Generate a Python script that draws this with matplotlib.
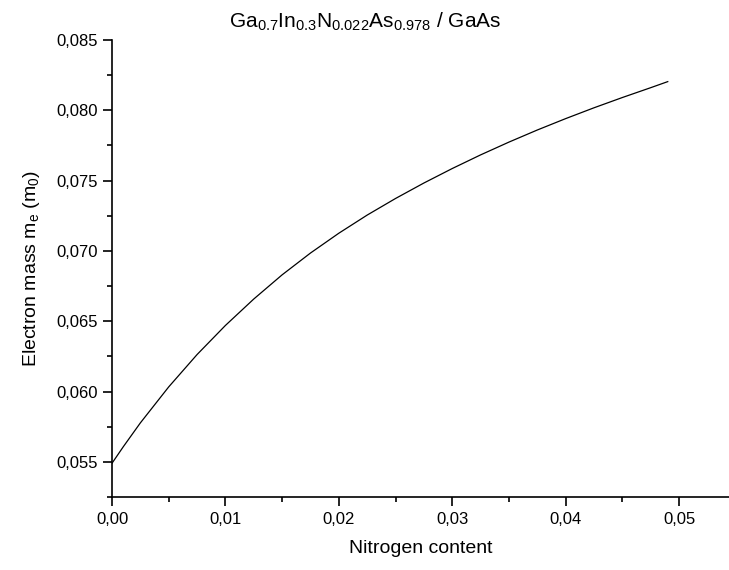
import matplotlib
matplotlib.use("Agg")
import matplotlib.pyplot as plt
from matplotlib.ticker import MultipleLocator, FuncFormatter

plt.rcParams['font.family'] = ['Liberation Sans', 'DejaVu Sans']
plt.rcParams['mathtext.fontset'] = 'custom'
plt.rcParams['mathtext.rm'] = 'Liberation Sans'
plt.rcParams['mathtext.it'] = 'Liberation Sans'

## nitrogen content and the electron effective mass (in units of m0)
nitrogen = [0.0000, 0.0010, 0.0025, 0.0050, 0.0075, 0.0100, 0.0125, 0.0150,
            0.0175, 0.0200, 0.0225, 0.0250, 0.0275, 0.0300, 0.0325, 0.0350,
            0.0375, 0.0400, 0.0425, 0.0450, 0.0475, 0.0490]
electron_mass = [0.05490, 0.05608, 0.05777, 0.06033, 0.06263, 0.06470, 0.06658, 0.06830,
                 0.06985, 0.07126, 0.07255, 0.07373, 0.07483, 0.07586, 0.07683, 0.07774,
                 0.07860, 0.07941, 0.08018, 0.08091, 0.08161, 0.08204]

title = r'Ga$_{\mathrm{0.7}}$In$_{\mathrm{0.3}}$N$_{\mathrm{0.022}}$As$_{\mathrm{0.978}}$ / GaAs'

fig = plt.figure(figsize=(7.29, 5.70), dpi=100)
ax = fig.add_axes([112/729, 73/570, 617/729, 457/570])

ax.plot(nitrogen, electron_mass, color="black", linewidth=0.9)

ax.set_xlim(0, 0.0544)
ax.set_ylim(0.0525, 0.085)

##origin style axes: only left and bottom, ticks pointing out
ax.spines["top"].set_visible(False)
ax.spines["right"].set_visible(False)
for s in ["left", "bottom"]:
    ax.spines[s].set_linewidth(1.2)

ax.xaxis.set_major_locator(MultipleLocator(0.01))
ax.xaxis.set_minor_locator(MultipleLocator(0.005))
ax.yaxis.set_major_locator(MultipleLocator(0.005))
ax.yaxis.set_minor_locator(MultipleLocator(0.0025))

##decimal comma on the tick labels
ax.xaxis.set_major_formatter(FuncFormatter(lambda v, p: f"{v:.2f}".replace(".", ",")))
ax.yaxis.set_major_formatter(FuncFormatter(lambda v, p: f"{v:.3f}".replace(".", ",")))

ax.tick_params(which="major", direction="out", length=6.5, width=1.2, labelsize=12, pad=4)
ax.tick_params(which="minor", direction="out", length=3.5, width=1.2)

ax.set_xlabel("Nitrogen content", fontsize=14, labelpad=10)
ax.set_ylabel(r"Electron mass m$_{\mathrm{e}}$ (m$_{\mathrm{0}}$)", fontsize=14, labelpad=10)

fig.text(365/729, 1 - 28/570, title, fontsize=15, ha="center", va="baseline")

fig.savefig("out.png", dpi=100)
